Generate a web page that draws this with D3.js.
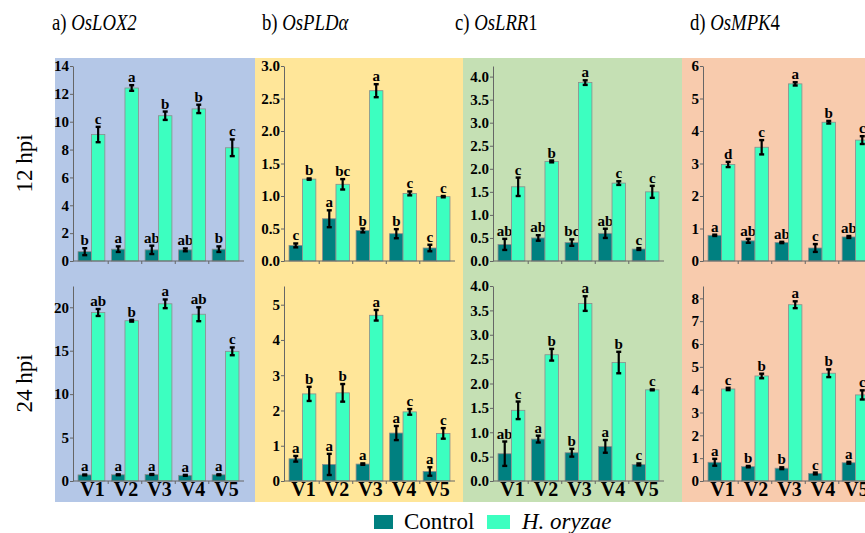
<!DOCTYPE html>
<html>
<head>
<meta charset="utf-8">
<script src="https://cdn.jsdelivr.net/npm/d3@7"></script>
<style>
  body { margin: 0; background: #fff; }
  svg { display: block; }
  svg text { font-family: "Liberation Serif", "DejaVu Serif", serif; }
</style>
</head>
<body>
<div id="chart"></div>
<script>
const width = 865;
const height = 533;

const varieties = ['V1', 'V2', 'V3', 'V4', 'V5'];
const titlePrefix = ['a) ', 'b) ', 'c) ', 'd) '];
const titleItalic = ['OsLOX2', 'OsPLDα', 'OsLRR', 'OsMPK'];
const titleSuffix = ['', '', '1', '4'];
const rowLabels = ['12 hpi', '24 hpi'];
const legendLabels = ['Control', 'H. oryzae'];

// each row: [control, control err, control letter, H. oryzae, H. oryzae err, letter]
const lox2_12 = [
  [0.67, 0.25, 'b', 9.08, 0.55, 'c'],
  [0.85, 0.2, 'a', 12.42, 0.2, 'a'],
  [0.8, 0.3, 'ab', 10.43, 0.3, 'b'],
  [0.8, 0.1, 'ab', 10.92, 0.3, 'b'],
  [0.85, 0.2, 'b', 8.13, 0.6, 'c']
];
const pld_12 = [
  [0.24, 0.03, 'c', 1.26, 0.01, 'b'],
  [0.65, 0.13, 'a', 1.18, 0.08, 'bc'],
  [0.47, 0.03, 'b', 2.62, 0.1, 'a'],
  [0.42, 0.07, 'b', 1.04, 0.03, 'c'],
  [0.2, 0.05, 'c', 0.99, 0.01, 'c']
];
const lrr_12 = [
  [0.36, 0.12, 'ab', 1.61, 0.2, 'c'],
  [0.5, 0.06, 'ab', 2.16, 0.02, 'b'],
  [0.4, 0.07, 'bc', 3.87, 0.05, 'a'],
  [0.6, 0.1, 'ab', 1.69, 0.04, 'c'],
  [0.26, 0.02, 'c', 1.5, 0.13, 'c']
];
const mpk_12 = [
  [0.79, 0.02, 'a', 2.97, 0.08, 'd'],
  [0.62, 0.06, 'ab', 3.5, 0.22, 'c'],
  [0.57, 0.02, 'ab', 5.45, 0.05, 'a'],
  [0.4, 0.12, 'c', 4.27, 0.04, 'b'],
  [0.74, 0.03, 'ab', 3.72, 0.12, 'c']
];
const lox2_24 = [
  [0.7, 0.05, 'a', 19.4, 0.4, 'ab'],
  [0.72, 0.05, 'a', 18.45, 0.1, 'b'],
  [0.75, 0.05, 'a', 20.4, 0.5, 'a'],
  [0.65, 0.05, 'a', 19.2, 0.8, 'ab'],
  [0.72, 0.05, 'a', 14.93, 0.45, 'c']
];
const pld_24 = [
  [0.63, 0.08, 'a', 2.47, 0.2, 'b'],
  [0.47, 0.3, 'a', 2.5, 0.25, 'b'],
  [0.48, 0.02, 'a', 4.7, 0.15, 'a'],
  [1.36, 0.2, 'a', 1.96, 0.08, 'c'],
  [0.27, 0.12, 'a', 1.35, 0.15, 'c']
];
const lrr_24 = [
  [0.56, 0.25, 'ab', 1.45, 0.18, 'c'],
  [0.86, 0.07, 'a', 2.59, 0.12, 'b'],
  [0.58, 0.08, 'b', 3.64, 0.15, 'a'],
  [0.71, 0.13, 'a', 2.43, 0.22, 'b'],
  [0.34, 0.02, 'c', 1.87, 0.01, 'c']
];
const mpk_24 = [
  [0.82, 0.15, 'a', 4.03, 0.05, 'c'],
  [0.63, 0.03, 'b', 4.6, 0.1, 'b'],
  [0.56, 0.04, 'b', 7.72, 0.15, 'a'],
  [0.33, 0.04, 'c', 4.72, 0.17, 'b'],
  [0.8, 0.04, 'a', 3.77, 0.2, 'c']
];

const yMax12 = [14, 3, 4.23, 6];
const yMax24 = [22.45, 5.53, 4, 8.54];
const yTicks12 = [
  [0, 2, 4, 6, 8, 10, 12, 14],
  [0, 0.5, 1, 1.5, 2, 2.5, 3],
  [0, 0.5, 1, 1.5, 2, 2.5, 3, 3.5, 4],
  [0, 1, 2, 3, 4, 5, 6]
];
const yTicks24 = [
  [0, 5, 10, 15, 20],
  [0, 1, 2, 3, 4, 5],
  [0, 0.5, 1, 1.5, 2, 2.5, 3, 3.5, 4],
  [0, 1, 2, 3, 4, 5, 6, 7, 8]
];
const tickDecimals12 = [0, 1, 1, 0];
const tickDecimals24 = [0, 0, 1, 0];

const panelData = [[lox2_12, pld_12, lrr_12, mpk_12], [lox2_24, pld_24, lrr_24, mpk_24]];

// layout
const serif = '"Liberation Serif", "DejaVu Serif", serif';
const bgColors = ['#b4c7e7', '#ffe699', '#c5e0b4', '#f8cbad'];
const bgX = [55, 255, 463, 682, 865];
const titleX = [52, 262, 455, 690];
const axisX = [73, 284, 493, 703];
const plotW = 171;
const rows = [
  { top: 66, bottom: 261 },
  { top: 286, bottom: 481 }
];
const controlColor = '#008080';
const treatColor = '#3cffc0';

const svg = d3.select('#chart')
  .append('svg')
  .attr('width', width)
  .attr('height', height)
  .attr('font-family', serif);

// panel backgrounds
bgColors.forEach((c, i) => {
  svg.append('rect')
    .attr('x', bgX[i]).attr('y', 58)
    .attr('width', bgX[i + 1] - bgX[i]).attr('height', 444)
    .attr('fill', c);
});

// titles (narrowed like the original figure)
titleItalic.forEach((t, i) => {
  const txt = svg.append('text')
    .attr('transform', `translate(${titleX[i]},30) scale(0.78,1)`)
    .attr('font-family', serif)
    .attr('font-size', 24);
  txt.append('tspan').text(titlePrefix[i]);
  txt.append('tspan').attr('font-style', 'italic').text(t);
  txt.append('tspan').text(titleSuffix[i]);
});

// row labels
rowLabels.forEach((t, r) => {
  svg.append('text')
    .attr('transform', `translate(32, ${(rows[r].top + rows[r].bottom) / 2}) rotate(-90)`)
    .attr('text-anchor', 'middle')
    .attr('font-family', serif)
    .attr('font-size', 23)
    .text(t);
});

function drawPanel(r, c) {
  const data = panelData[r][c];
  const ax = axisX[c];
  const yMax = r === 0 ? yMax12[c] : yMax24[c];
  const ticks = r === 0 ? yTicks12[c] : yTicks24[c];
  const dec = r === 0 ? tickDecimals12[c] : tickDecimals24[c];

  const y = d3.scaleLinear().domain([0, yMax]).range([rows[r].bottom, rows[r].top]);
  const x0 = d3.scaleBand().domain(varieties).range([ax, ax + plotW])
    .paddingInner(0.2).paddingOuter(0.15);
  const x1 = d3.scaleBand().domain(['ctrl', 'trt']).range([0, x0.bandwidth()]);

  const g = svg.append('g');

  // bars
  const groups = g.selectAll('g.grp')
    .data(data)
    .join('g')
    .attr('transform', (d, i) => `translate(${x0(varieties[i])},0)`);

  const bars = groups.selectAll('g.bar')
    .data(d => [
      { key: 'ctrl', v: d[0], e: d[1], l: d[2] },
      { key: 'trt', v: d[3], e: d[4], l: d[5] }
    ])
    .join('g');

  bars.append('rect')
    .attr('x', d => x1(d.key))
    .attr('y', d => y(d.v))
    .attr('width', x1.bandwidth())
    .attr('height', d => y(0) - y(d.v))
    .attr('fill', d => d.key === 'ctrl' ? controlColor : treatColor)
    .attr('stroke', '#8c8c8c')
    .attr('stroke-width', 0.8);

  // error bars
  const cx = d => x1(d.key) + x1.bandwidth() / 2;
  bars.append('line')
    .attr('x1', cx).attr('x2', cx)
    .attr('y1', d => y(d.v - d.e)).attr('y2', d => y(d.v + d.e))
    .attr('stroke', '#000').attr('stroke-width', 2.2);
  ['lo', 'hi'].forEach(s => {
    bars.append('line')
      .attr('x1', d => cx(d) - 2.5).attr('x2', d => cx(d) + 2.5)
      .attr('y1', d => y(s === 'lo' ? d.v - d.e : d.v + d.e))
      .attr('y2', d => y(s === 'lo' ? d.v - d.e : d.v + d.e))
      .attr('stroke', '#000').attr('stroke-width', 2.4);
  });

  // significance letters
  bars.append('text')
    .attr('x', cx)
    .attr('y', d => y(d.v + d.e) - 3)
    .attr('text-anchor', 'middle')
    .attr('font-family', serif)
    .attr('font-size', 15)
    .attr('font-weight', 'bold')
    .text(d => d.l);

  // y axis
  const yAxis = g.append('g')
    .attr('transform', `translate(${ax},0)`)
    .call(d3.axisLeft(y).tickValues(ticks).tickSize(3).tickSizeOuter(0).tickPadding(1)
      .tickFormat(d => d.toFixed(dec)));
  yAxis.select('.domain').attr('stroke', '#666');
  yAxis.selectAll('.tick line').attr('stroke', '#666');
  yAxis.selectAll('.tick text')
    .attr('font-family', serif)
    .attr('font-size', 15)
    .attr('font-weight', 'bold')
    .attr('fill', '#000');

  // x axis
  g.append('line')
    .attr('x1', ax).attr('x2', ax + plotW)
    .attr('y1', y(0)).attr('y2', y(0))
    .attr('stroke', '#666');
  const step = x0.step();
  g.selectAll('line.xt')
    .data(varieties.slice(1))
    .join('line')
    .attr('x1', v => x0(v) - step * 0.1).attr('x2', v => x0(v) - step * 0.1)
    .attr('y1', y(0)).attr('y2', y(0) + 3)
    .attr('stroke', '#666');

  if (r === 1) {
    g.selectAll('text.xl')
      .data(varieties)
      .join('text')
      .attr('x', v => x0(v) + x0.bandwidth() / 2 + 1)
      .attr('y', 496)
      .attr('text-anchor', 'middle')
      .attr('font-family', serif)
      .attr('font-size', 20)
      .attr('font-weight', 'bold')
      .text(v => v);
  }
}

for (let r = 0; r < 2; r++) {
  for (let c = 0; c < 4; c++) drawPanel(r, c);
}

// legend
const legend = svg.append('g');
legend.append('rect').attr('x', 374).attr('y', 515).attr('width', 19).attr('height', 14)
  .attr('fill', controlColor);
legend.append('text').attr('x', 404).attr('y', 529).attr('font-family', serif)
  .attr('font-size', 23).text(legendLabels[0]);
legend.append('rect').attr('x', 487).attr('y', 515).attr('width', 23).attr('height', 14)
  .attr('fill', treatColor);
legend.append('text').attr('x', 522).attr('y', 529).attr('font-family', serif)
  .attr('font-size', 23).attr('font-style', 'italic').text(legendLabels[1]);
</script>
</body>
</html>
